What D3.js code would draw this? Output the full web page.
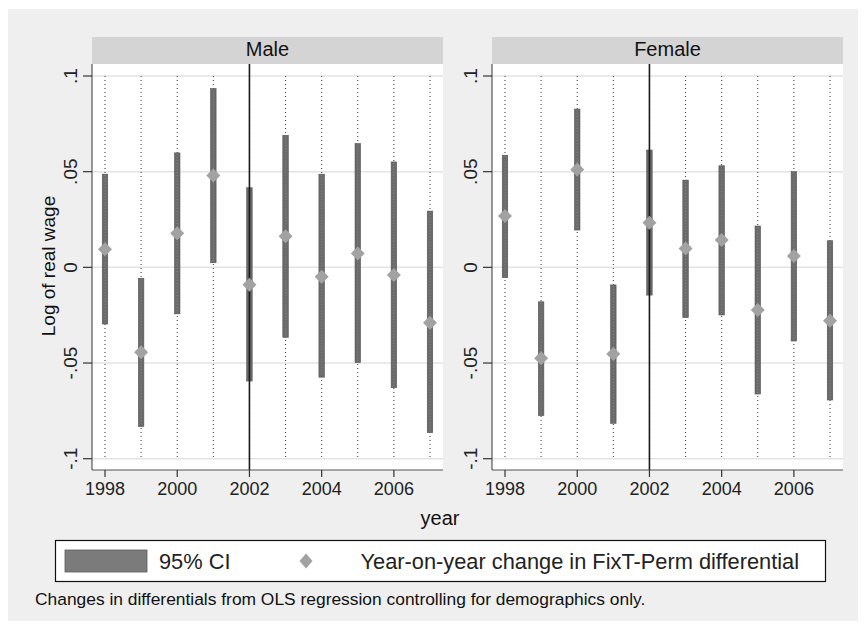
<!DOCTYPE html>
<html><head><meta charset="utf-8">
<script src="https://cdn.jsdelivr.net/npm/d3@7"></script>
<style>
body{margin:0;background:#fff}
svg{display:block;font-family:"Liberation Sans",Arial,sans-serif}
</style>
</head><body>
<svg id="c" width="865" height="629"></svg>
<script>
// ---- data ----
const years = [1998,1999,2000,2001,2002,2003,2004,2005,2006,2007];
const panelNames = ["Male","Female"];
const maleEst = [0.0094,-0.0444,0.0178,0.0480,-0.0091,0.0162,-0.0049,0.0073,-0.0040,-0.0289];
const maleLo  = [-0.0296,-0.0832,-0.0243,0.0024,-0.0594,-0.0366,-0.0574,-0.0498,-0.0629,-0.0864];
const maleHi  = [0.0487,-0.0057,0.0598,0.0934,0.0416,0.0690,0.0487,0.0647,0.0551,0.0294];
const femaleEst = [0.0268,-0.0475,0.0512,-0.0453,0.0233,0.0099,0.0143,-0.0223,0.0059,-0.0279];
const femaleLo  = [-0.0054,-0.0775,0.0195,-0.0815,-0.0145,-0.0263,-0.0249,-0.0662,-0.0385,-0.0693];
const femaleHi  = [0.0586,-0.0180,0.0827,-0.0092,0.0613,0.0456,0.0531,0.0216,0.0500,0.0139];
const yTicks = [-0.1,-0.05,0,0.05,0.1];
const yTickLabels = ["-.1","-.05","0",".05",".1"];
const xTicks = [1998,2000,2002,2004,2006];
const refYear = 2002;
const legendLabels = ["95% CI","Year-on-year change in FixT-Perm differential"];
const yTitle = "Log of real wage";
const xTitle = "year";
const note = "Changes in differentials from OLS regression controlling for demographics only.";

const series = [
  {name: panelNames[0], est: maleEst, lo: maleLo, hi: maleHi},
  {name: panelNames[1], est: femaleEst, lo: femaleLo, hi: femaleHi}
];

const svg = d3.select("#c");
svg.append("rect").attr("x",8).attr("y",9).attr("width",850).attr("height",612).attr("fill","#efefef");

const panelLeft = [92, 492], panelW = 351;
const plotTop = 64, plotBottom = 470, stripTop = 37;
const y = d3.scaleLinear().domain([-0.1,0.1]).range([458.7,76]);

series.forEach((s,pi)=>{
  const L = panelLeft[pi];
  const x = d3.scaleLinear().domain([1998,2007]).range([L+13, L+338]);
  const g = svg.append("g");
  // strip
  g.append("rect").attr("x",L).attr("y",stripTop).attr("width",panelW).attr("height",plotTop-stripTop).attr("fill","#d4d4d4");
  g.append("text").attr("x",L+panelW/2).attr("y",56).attr("text-anchor","middle")
    .attr("font-size",20).attr("fill","#111").text(s.name);
  // plot bg
  g.append("rect").attr("x",L).attr("y",plotTop).attr("width",panelW).attr("height",plotBottom-plotTop).attr("fill","#fff");
  // gridlines
  g.selectAll(".grid").data(yTicks).join("line")
    .attr("x1",L).attr("x2",L+panelW).attr("y1",d=>y(d)).attr("y2",d=>y(d))
    .attr("stroke","#e3e3e3").attr("stroke-width",1.5);
  // dotted year lines
  g.selectAll(".yl").data(years).join("line")
    .attr("x1",d=>x(d)).attr("x2",d=>x(d)).attr("y1",y(0.1)).attr("y2",y(-0.1))
    .attr("stroke","#333").attr("stroke-width",1).attr("stroke-dasharray","1,3");
  // CI bars
  g.selectAll(".ci").data(years).join("rect")
    .attr("x",d=>x(d)-2.75).attr("width",5.5)
    .attr("y",(d,i)=>y(s.hi[i])).attr("height",(d,i)=>y(s.lo[i])-y(s.hi[i]))
    .attr("fill","#6a6a6a").attr("stroke","#555").attr("stroke-width",0.6);
  g.selectAll(".cit").data(years).join("line")
    .attr("x1",d=>x(d)).attr("x2",d=>x(d))
    .attr("y1",(d,i)=>y(s.hi[i])+1).attr("y2",(d,i)=>y(s.lo[i])-1)
    .attr("stroke","#8a8a8a").attr("stroke-width",1).attr("stroke-dasharray","1,2");
  // reference line
  g.append("line").attr("x1",x(refYear)).attr("x2",x(refYear)).attr("y1",plotTop).attr("y2",plotBottom)
    .attr("stroke","#1a1a1a").attr("stroke-width",1.6);
  // diamonds
  const r = 7;
  g.selectAll(".pt").data(years).join("path")
    .attr("d",(d,i)=>{const cx=x(d), cy=y(s.est[i]); return `M${cx},${cy-r}L${cx+r},${cy}L${cx},${cy+r}L${cx-r},${cy}Z`;})
    .attr("fill","#a2a2a2");
  // axes
  g.append("line").attr("x1",L).attr("x2",L).attr("y1",plotTop).attr("y2",plotBottom).attr("stroke","#555").attr("stroke-width",1.2);
  g.append("line").attr("x1",L).attr("x2",L+panelW).attr("y1",plotBottom).attr("y2",plotBottom).attr("stroke","#555").attr("stroke-width",1.2);
  g.selectAll(".yt").data(yTicks).join("line")
    .attr("x1",L-9).attr("x2",L).attr("y1",d=>y(d)).attr("y2",d=>y(d)).attr("stroke","#333").attr("stroke-width",1.2);
  g.selectAll(".ytl").data(yTicks).join("text")
    .attr("transform",d=>`translate(${L-15},${y(d)}) rotate(-90)`)
    .attr("text-anchor","middle").attr("font-size",19).attr("fill","#222")
    .text((d,i)=>yTickLabels[i]);
  g.selectAll(".xt").data(xTicks).join("line")
    .attr("x1",d=>x(d)).attr("x2",d=>x(d)).attr("y1",plotBottom).attr("y2",plotBottom+7).attr("stroke","#333").attr("stroke-width",1.2);
  g.selectAll(".xtl").data(xTicks).join("text")
    .attr("x",d=>x(d)).attr("y",495).attr("text-anchor","middle").attr("font-size",18).attr("fill","#222")
    .text(d=>d);
});

// axis titles
svg.append("text").attr("transform","translate(55,266) rotate(-90)").attr("text-anchor","middle")
  .attr("font-size",19).attr("fill","#111").text(yTitle);
svg.append("text").attr("x",440).attr("y",525).attr("text-anchor","middle")
  .attr("font-size",20).attr("fill","#111").text(xTitle);

// legend
const lg = svg.append("g");
lg.append("rect").attr("x",55.5).attr("y",540.5).attr("width",770).attr("height",41)
  .attr("fill","#fff").attr("stroke","#111").attr("stroke-width",1.2);
lg.append("rect").attr("x",65).attr("y",550).attr("width",82).attr("height",22)
  .attr("fill","#7b7b7b").attr("stroke","#5c5c5c").attr("stroke-width",0.8);
lg.append("text").attr("x",159).attr("y",569).attr("font-size",21.8).attr("fill","#222").text(legendLabels[0]);
const lr = 7.5, lx = 306, ly = 561;
lg.append("path").attr("d",`M${lx},${ly-lr}L${lx+lr-1},${ly}L${lx},${ly+lr}L${lx-lr+1},${ly}Z`).attr("fill","#a2a2a2");
lg.append("text").attr("x",360.5).attr("y",569).attr("font-size",21.8).attr("fill","#222").text(legendLabels[1]);

// note
svg.append("text").attr("x",35).attr("y",605).attr("font-size",17.4).attr("fill","#111").text(note);
</script>
</body></html>
